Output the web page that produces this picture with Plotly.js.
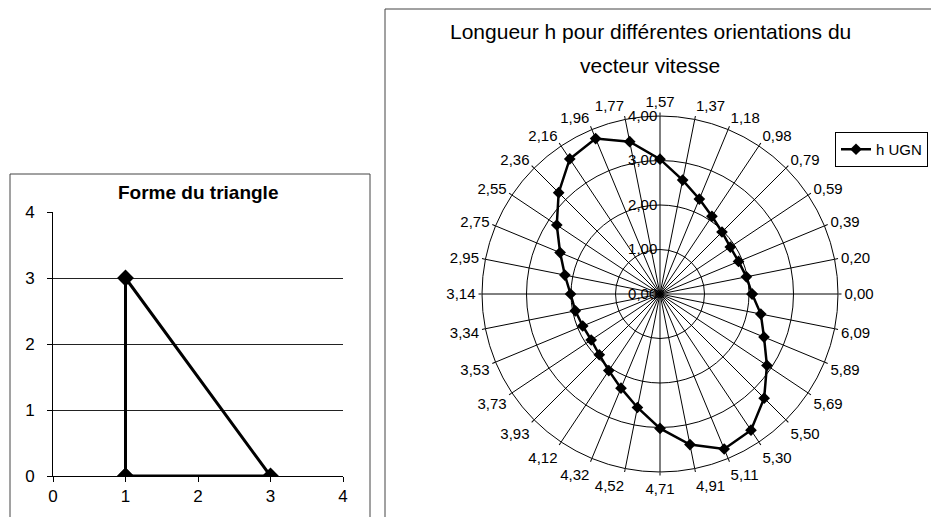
<!DOCTYPE html>
<html>
<head>
<meta charset="utf-8">
<script src="https://cdn.plot.ly/plotly-3.0.1.min.js"></script>
<style>
  html, body { margin: 0; padding: 0; background: #fff; }
  #chart { width: 931px; height: 517px; }
</style>
</head>
<body>
<div id="chart"></div>
<script>
// Triangle vertices (closed path)
var triX = [1, 1, 3, 1];
var triY = [0, 3, 0, 0];

// Velocity orientations (radians, French decimal comma) and length h
var angleLabels = ["0,00","0,20","0,39","0,59","0,79","0,98","1,18","1,37",
                   "1,57","1,77","1,96","2,16","2,36","2,55","2,75","2,95",
                   "3,14","3,34","3,53","3,73","3,93","4,12","4,32","4,52",
                   "4,71","4,91","5,11","5,30","5,50","5,69","5,89","6,09"];
var hUGN = [2.07, 1.98, 1.91, 1.90, 1.97, 2.10, 2.31, 2.61,
            3.03, 3.49, 3.78, 3.65, 3.22, 2.79, 2.43, 2.18,
            2.01, 1.94, 1.88, 1.86, 1.93, 2.07, 2.29, 2.60,
            3.02, 3.45, 3.77, 3.68, 3.31, 2.89, 2.53, 2.31];

var radialTicks = [0, 1, 2, 3, 4];
var radialTickText = ["0,00", "1,00", "2,00", "3,00", "4,00"];
var axisTicks = [0, 1, 2, 3, 4];

var W = 931, H = 517;
function px(x) { return x / W; }
function py(y) { return 1 - y / H; }

var FONT = "Liberation Sans, Arial, sans-serif";

var traces = [
  {
    type: "scatter", mode: "lines+markers",
    x: triX, y: triY,
    xaxis: "x", yaxis: "y",
    line: { color: "#000", width: 3 },
    marker: { symbol: "diamond", size: 13, color: "#000" },
    showlegend: false, hoverinfo: "skip"
  },
  {
    type: "scatterpolar", mode: "lines+markers",
    name: "h UGN",
    theta: angleLabels.concat([angleLabels[0]]),
    r: hUGN.concat([hUGN[0]]),
    subplot: "polar",
    line: { color: "#000", width: 2.5 },
    marker: { symbol: "diamond", size: 9, color: "#000" },
    showlegend: true
  }
];

var cx = 660, cy = 294, R = 178;

var layout = {
  width: W, height: H,
  margin: { l: 0, r: 0, t: 0, b: 0 },
  paper_bgcolor: "#fff",
  plot_bgcolor: "#fff",
  font: { family: FONT, color: "#000", size: 15 },
  showlegend: true,
  legend: {
    x: px(835), y: py(132), xanchor: "left", yanchor: "top",
    bordercolor: "#000", borderwidth: 1, bgcolor: "#fff",
    font: { family: FONT, size: 15, color: "#000" },
    itemwidth: 30, tracegroupgap: 0
  },
  xaxis: {
    domain: [px(53), px(343)], anchor: "y",
    range: [0, 4], tickvals: axisTicks,
    showgrid: false, zeroline: false,
    showline: true, linecolor: "#000", linewidth: 1,
    ticks: "outside", ticklen: 5, tickcolor: "#000",
    tickfont: { family: FONT, size: 17 }
  },
  yaxis: {
    domain: [py(476), py(212)], anchor: "x",
    range: [0, 4], tickvals: axisTicks,
    showgrid: true, gridcolor: "#222", gridwidth: 1,
    zeroline: false,
    showline: true, linecolor: "#000", linewidth: 1,
    ticks: "outside", ticklen: 5, tickcolor: "#000",
    ticklabelstandoff: 9,
    tickfont: { family: FONT, size: 17 }
  },
  polar: {
    domain: { x: [px(cx - R), px(cx + R)], y: [py(cy + R), py(cy - R)] },
    bgcolor: "#fff",
    angularaxis: {
      type: "category",
      categoryorder: "array", categoryarray: angleLabels,
      direction: "counterclockwise", rotation: 0,
      showline: true, linecolor: "#000", linewidth: 1,
      showgrid: true, gridcolor: "#000", gridwidth: 1,
      ticks: "outside", ticklen: 3, tickcolor: "#000",
      tickfont: { family: FONT, size: 15 }
    },
    radialaxis: {
      range: [0, 4], angle: 90, side: "counterclockwise",
      tickvals: radialTicks, ticktext: radialTickText,
      showline: false, showgrid: true, gridcolor: "#000", gridwidth: 1,
      ticks: "", tickangle: 90,
      tickfont: { family: FONT, size: 15 }
    }
  },
  annotations: [
    {
      text: "<b>Forme du triangle</b>", xref: "paper", yref: "paper",
      x: px(198), y: py(192), xanchor: "center", yanchor: "middle",
      showarrow: false, font: { family: FONT, size: 19, color: "#000" }
    },
    {
      text: "Longueur h pour différentes orientations du",
      xref: "paper", yref: "paper",
      x: px(650), y: py(31), xanchor: "center", yanchor: "middle",
      showarrow: false, font: { family: FONT, size: 21, color: "#000" }
    },
    {
      text: "vecteur vitesse",
      xref: "paper", yref: "paper",
      x: px(650), y: py(66), xanchor: "center", yanchor: "middle",
      showarrow: false, font: { family: FONT, size: 21, color: "#000" }
    }
  ],
  shapes: [
    // chart frames
    { type: "rect", xref: "paper", yref: "paper",
      x0: px(10), x1: px(370), y0: py(540), y1: py(174),
      line: { color: "#444", width: 1 } },
    { type: "rect", xref: "paper", yref: "paper",
      x0: px(385), x1: px(960), y0: py(540), y1: py(9),
      line: { color: "#444", width: 1 } }
  ]
};

Plotly.newPlot("chart", traces, layout, { displayModeBar: false, staticPlot: true });
</script>
</body>
</html>
